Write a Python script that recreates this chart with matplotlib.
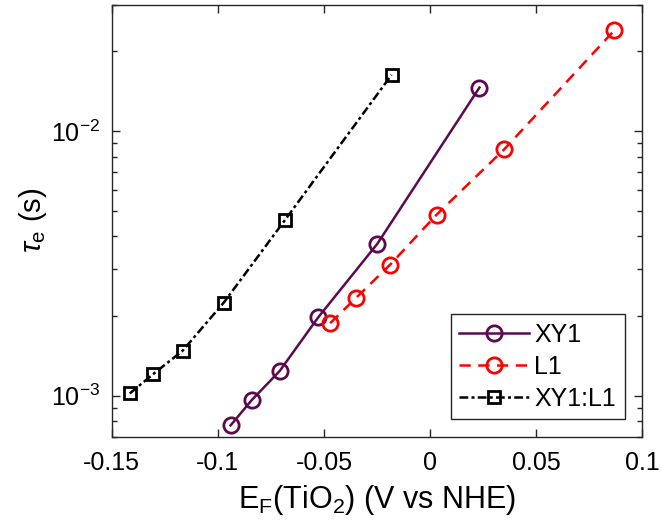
import matplotlib
matplotlib.use('Agg')
import matplotlib.pyplot as plt
from matplotlib.ticker import LogLocator, NullFormatter, FixedLocator

# values
xy1_x = [-0.0940, -0.0841, -0.0709, -0.0527, -0.0249, 0.0232]
xy1_tau = [7.73e-4, 9.62e-4, 1.24e-3, 1.98e-3, 3.75e-3, 1.46e-2]

l1_x = [-0.0471, -0.0350, -0.0190, 0.0030, 0.0348, 0.0867]
l1_tau = [1.88e-3, 2.34e-3, 3.12e-3, 4.83e-3, 8.52e-3, 2.40e-2]

mix_x = [-0.1415, -0.1306, -0.1166, -0.0972, -0.0685, -0.0182]
mix_tau = [1.02e-3, 1.205e-3, 1.48e-3, 2.25e-3, 4.60e-3, 1.63e-2]

xticks = [-0.15, -0.1, -0.05, 0, 0.05, 0.1]
xticklabels = ['-0.15', '-0.1', '-0.05', '0', '0.05', '0.1']

plt.rcParams.update({'font.family': 'Liberation Sans', 'font.size': 18,
                     'mathtext.fontset': 'custom',
                     'mathtext.rm': 'Liberation Sans',
                     'mathtext.it': 'Liberation Sans:italic',
                     'mathtext.default': 'regular'})
axcol = '#262626'

fig = plt.figure(figsize=(6.61, 5.32), dpi=100)
ax = fig.add_axes((0.169, 0.179, 0.803, 0.812))

ax.plot(xy1_x, xy1_tau, '-o', color='#5c0a4e', lw=1.8, ms=11,
        mfc='none', mew=2, label='XY1')
ax.plot(l1_x, l1_tau, '--o', color='#ff0000', lw=1.8, ms=11,
        mfc='none', mew=2, label='L1', dashes=(4.5, 3))
ax.plot(mix_x, mix_tau, '-.s', color='black', lw=1.8, ms=9,
        mfc='none', mew=2, label='XY1:L1', dashes=(3.5, 1.3, 1.2, 1.3))

ax.set_yscale('log')
ax.set_xlim(-0.15, 0.1)
ax.set_ylim(7e-4, 3e-2)
ax.xaxis.set_major_locator(FixedLocator(xticks))
ax.set_xticklabels(xticklabels)
ax.yaxis.set_major_locator(LogLocator(base=10, numticks=10))
ax.yaxis.set_minor_locator(LogLocator(base=10, subs=range(2, 10), numticks=20))
ax.yaxis.set_minor_formatter(NullFormatter())

ax.tick_params(which='both', direction='in', top=True, right=True,
               color=axcol, labelcolor='black', width=1)
ax.tick_params(which='major', length=6, pad=10)
ax.tick_params(axis='y', which='major', pad=8)
ax.tick_params(which='minor', length=3.5)
for s in ax.spines.values():
    s.set_color(axcol)
    s.set_linewidth(1)

ax.set_xlabel(r'E$_{\rm F}$(TiO$_2$) (V vs NHE)', fontsize=22, labelpad=6)
ax.set_ylabel(r'$\it{\tau}_{\rm e}$ (s)', fontsize=21, labelpad=2)

leg = ax.legend(loc='lower right', fontsize=18, fancybox=False,
                framealpha=1, edgecolor=axcol, handlelength=2.8,
                borderaxespad=0.7, labelspacing=0.32, handletextpad=0.2,
                borderpad=0.35)
leg.get_frame().set_linewidth(1)

fig.savefig('out.png', dpi=100)
